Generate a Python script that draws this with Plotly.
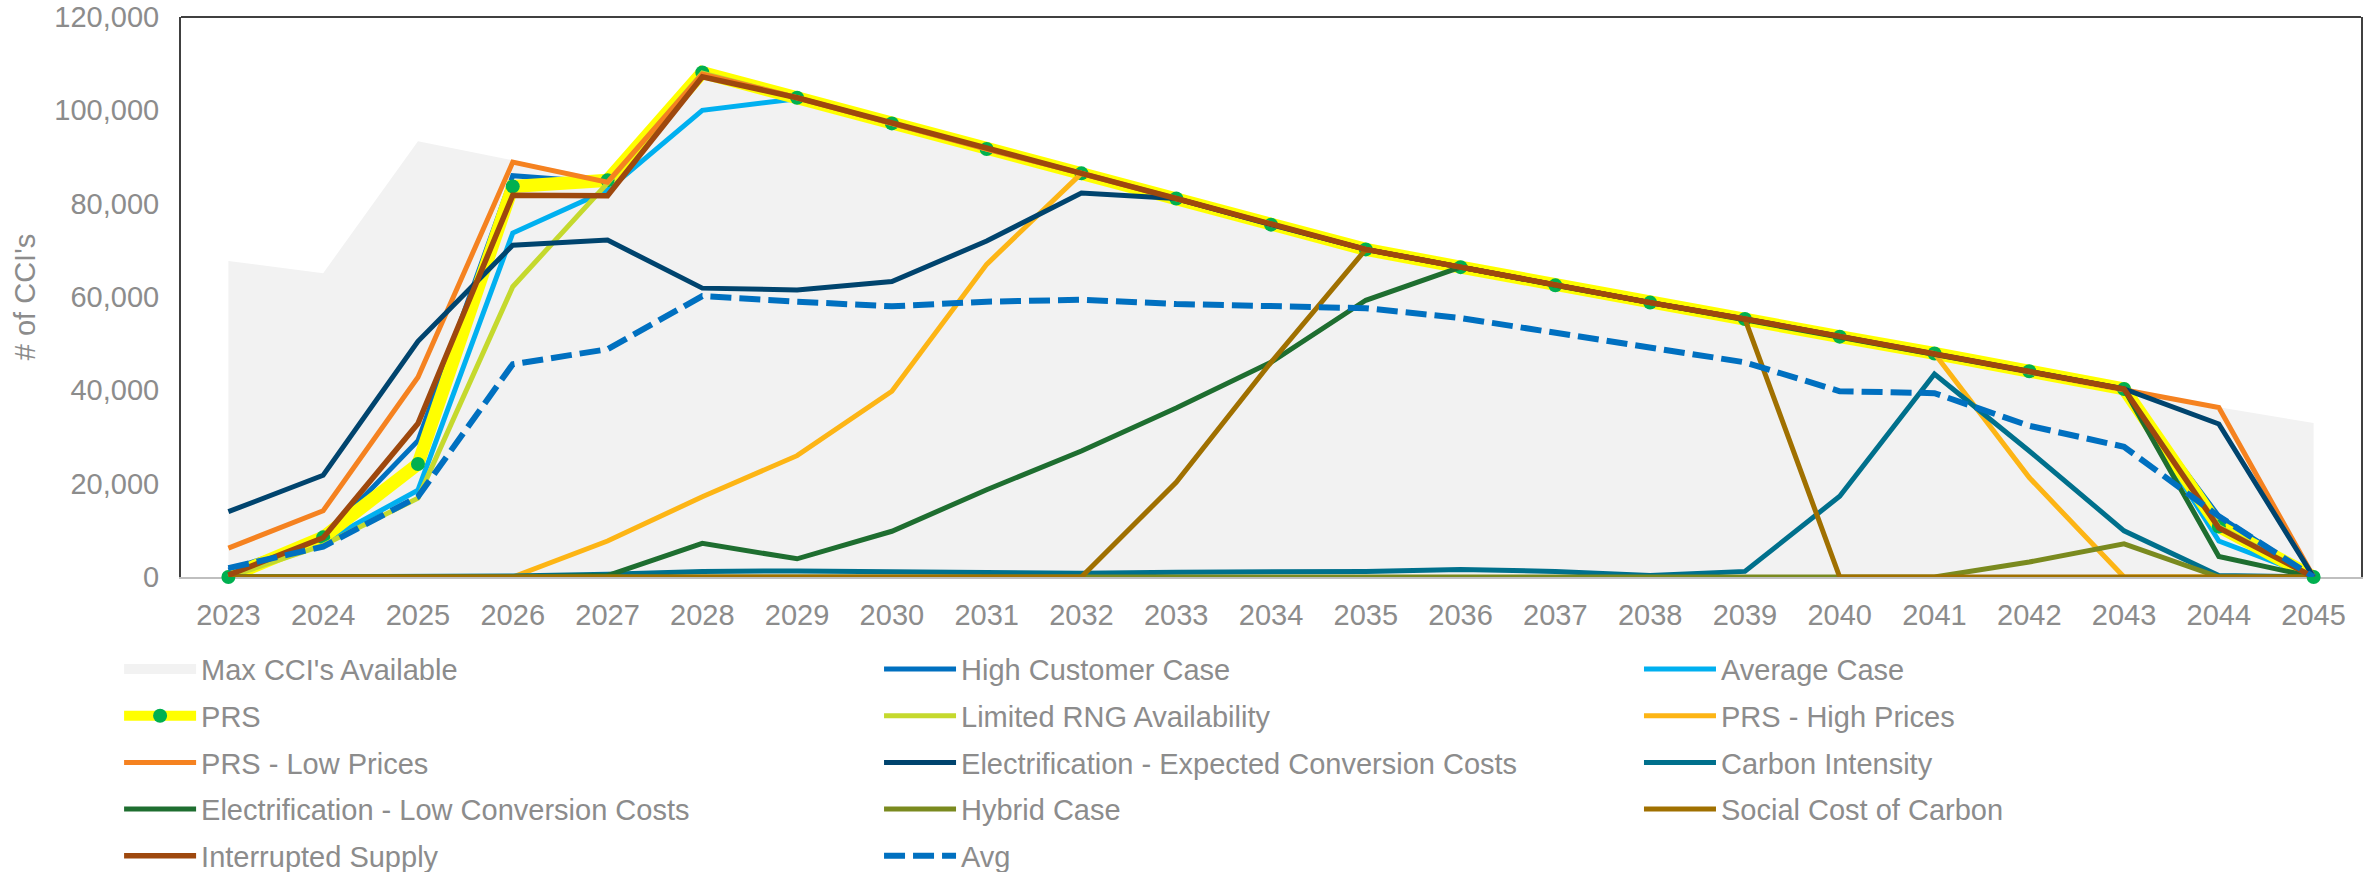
import plotly.graph_objects as go

years = [str(y) for y in range(2023, 2046)]

max_available = [67700, 65100, 93400, 89300, 85200, 108100, 102700, 97200, 91700, 86500, 81100, 75500,
                 70200, 66400, 62500, 58800, 55300, 51500, 47900, 44100, 40300, 36400, 33000]
high_customer = [1500, 8200, 29200, 86000, 84500, 108000, 102700, 97200, 91700, 86500, 81100, 75500,
                 70200, 66400, 62500, 58800, 55300, 51500, 47900, 44100, 40300, 13000, 0]
average_case = [500, 7500, 18600, 73700, 82900, 100000, 102500, 97200, 91700, 86500, 81100, 75500,
                70200, 66400, 62500, 58800, 55300, 51500, 47900, 44100, 40300, 7700, 0]
prs = [0, 8500, 24200, 83700, 85000, 108100, 102700, 97200, 91700, 86500, 81100, 75500,
       70200, 66400, 62500, 58800, 55300, 51500, 47900, 44100, 40300, 10800, 0]
limited_rng = [0, 6800, 16900, 62200, 84400, 108000, 102700, 97200, 91700, 86500, 81100, 75500,
               70200, 66400, 62500, 58800, 55300, 51500, 47900, 44100, 40300, 10800, 0]
prs_high = [0, 0, 0, 0, 7700, 17200, 26000, 39800, 67000, 86500, 81100, 75500,
            70200, 66400, 62500, 58800, 55300, 51500, 47900, 21300, 0, 0, 0]
prs_low = [6200, 14200, 42800, 88900, 84600, 107800, 102700, 97200, 91700, 86500, 81100, 75500,
           70200, 66400, 62500, 58800, 55300, 51500, 47900, 44100, 40300, 36300, 0]
elec_expected = [14000, 21800, 50500, 71100, 72200, 61900, 61500, 63300, 72000, 82300, 81100, 75500,
                 70200, 66400, 62500, 58800, 55300, 51500, 47900, 44100, 40300, 32800, 0]
carbon_intensity = [0, 0, 0, 200, 600, 1200, 1300, 1200, 1100, 800, 1000, 1000,
                    1200, 1600, 1200, 300, 1200, 17300, 43500, 27000, 9900, 300, 0]
elec_low = [0, 0, 0, 0, 300, 7200, 3900, 9800, 18700, 27000, 36200, 46000,
            59300, 66400, 62500, 58800, 55300, 51500, 47900, 44100, 40300, 4400, 0]
hybrid = [0, 0, 0, 0, 0, 0, 0, 0, 0, 0, 0, 0,
          0, 0, 0, 0, 0, 0, 0, 3200, 7100, 0, 0]
social_cost = [0, 0, 0, 0, 0, 0, 0, 0, 0, 0, 20300, 46000,
               70200, 66400, 62500, 58800, 55300, 0, 0, 0, 0, 0, 0]
interrupted = [400, 8400, 32900, 81800, 81700, 107200, 102700, 97200, 91700, 86500, 81100, 75500,
               70200, 66400, 62500, 58800, 55300, 51500, 47900, 44100, 40300, 10500, 0]
avg = [1900, 6500, 17200, 45600, 48800, 60200, 59000, 58000, 59000, 59400, 58500, 58000,
       57600, 55500, 52300, 49300, 46000, 39800, 39400, 32400, 27900, 13000, 0]

GRAY = "#8c8c8c"
FONT = "Liberation Sans, Arial, sans-serif"

fig = go.Figure()

# area (no legend) + legend proxy
fig.add_trace(go.Scatter(x=years, y=max_available, mode="lines", line=dict(width=0, color="#f2f2f2"),
                         fill="tozeroy", fillcolor="#f2f2f2", showlegend=False, hoverinfo="skip"))

series = [
    ("Max CCI's Available", None, "#f2f2f2", 16, None, "legend"),
    ("High Customer Case", high_customer, "#0070c0", 5, None, "legend2"),
    ("Average Case", average_case, "#00b0f0", 5, None, "legend3"),
    ("PRS", prs, "#ffff00", 13, None, "legend"),
    ("Limited RNG Availability", limited_rng, "#c5d92d", 5, None, "legend2"),
    ("PRS - High Prices", prs_high, "#fdb515", 5, None, "legend3"),
    ("PRS - Low Prices", prs_low, "#f58220", 5, None, "legend"),
    ("Electrification - Expected Conversion Costs", elec_expected, "#00446e", 5, None, "legend2"),
    ("Carbon Intensity", carbon_intensity, "#00708c", 5, None, "legend3"),
    ("Electrification - Low Conversion Costs", elec_low, "#1e6e30", 5, None, "legend"),
    ("Hybrid Case", hybrid, "#7a8a1f", 5, None, "legend2"),
    ("Social Cost of Carbon", social_cost, "#a07000", 5, None, "legend3"),
    ("Interrupted Supply", interrupted, "#9e480e", 5.5, None, "legend"),
    ("Avg", avg, "#0070c0", 6, "21px,8px", "legend2"),
]

for name, vals, color, width, dash, leg in series:
    if vals is None:
        fig.add_trace(go.Scatter(x=[None], y=[None], mode="lines", name=name,
                                 line=dict(color=color, width=width),
                                 legend=leg, legendgroup=name))
        continue
    if name == "PRS":
        fig.add_trace(go.Scatter(x=years, y=vals, mode="lines+markers", name=name,
                                 line=dict(color=color, width=width),
                                 marker=dict(color="#00b050", size=14),
                                 cliponaxis=False, legend=leg, legendgroup=name))
    else:
        fig.add_trace(go.Scatter(x=years, y=vals, mode="lines", name=name,
                                 line=dict(color=color, width=width, dash=dash),
                                 legend=leg, legendgroup=name))

leg_common = dict(orientation="v", xanchor="left", yanchor="top", y=-0.119,
                  bgcolor="rgba(0,0,0,0)", font=dict(family=FONT, size=29, color=GRAY),
                  itemwidth=72, tracegroupgap=6, traceorder="grouped")

fig.update_layout(
    width=2376, height=872,
    paper_bgcolor="white", plot_bgcolor="white",
    margin=dict(l=181, r=15, t=17, b=295, autoexpand=False),
    font=dict(family=FONT, size=29, color=GRAY),
    legend=dict(x=-0.0284, **leg_common),
    legend2=dict(x=0.3202, **leg_common),
    legend3=dict(x=0.6688, **leg_common),
    xaxis=dict(type="category", range=[-0.5, 22.5], showgrid=False, zeroline=False,
               showline=True, linecolor="#bfbfbf", linewidth=2, ticks="",
               tickfont=dict(family=FONT, size=29, color=GRAY), ticklabelstandoff=11,
               layer="below traces"),
    yaxis=dict(range=[0, 120000], dtick=20000, tickformat=",d", showgrid=False, zeroline=False,
               showline=True, mirror=True, linecolor="#404040", linewidth=2, ticks="",
               tickfont=dict(family=FONT, size=29, color=GRAY), ticklabelstandoff=14,
               ticklabeloverflow="allow",
               title=dict(text="# of CCI's", font=dict(family=FONT, size=29, color=GRAY), standoff=10),
               layer="below traces"),
    shapes=[dict(type="line", xref="paper", yref="paper", x0=0, x1=1, y0=1, y1=1,
                 line=dict(color="#404040", width=2))],
)

# remove the browser's default 8px body margin so the figure sits at the page origin
fig.write_html("out.html", config={"displayModeBar": False},
               post_script="document.body.style.margin='0';document.body.style.overflow='hidden';")
